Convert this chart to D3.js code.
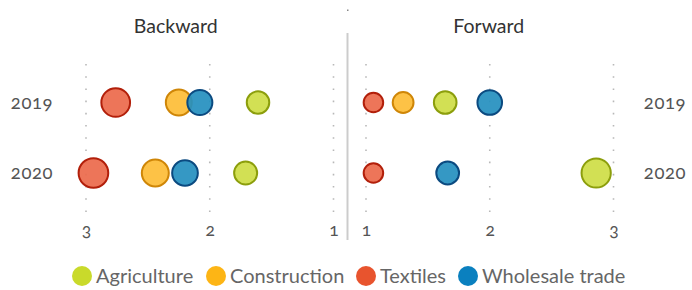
<!DOCTYPE html>
<html>
<head>
<meta charset="utf-8">
<script src="https://cdn.jsdelivr.net/npm/d3@7"></script>
<style>
  body { margin: 0; background: #fff; }
  svg { display: block; font-family: Lato, "Open Sans", sans-serif; font-variant-numeric: oldstyle-nums; }
</style>
</head>
<body>
<svg width="692" height="290"></svg>
<script>
const years = ['2019', '2020']
const sectors = ['Agriculture', 'Construction', 'Textiles', 'Wholesale trade']
const ticks = [1, 2, 3]

// participation values, one array per sector, by year
const backward = {
  'Agriculture': [1.61, 1.71],
  'Construction': [2.25, 2.44],
  'Textiles': [2.76, 2.94],
  'Wholesale trade': [2.08, 2.2]
}
const forward = {
  'Agriculture': [1.64, 2.86],
  'Construction': [1.3, null],
  'Textiles': [1.06, 1.06],
  'Wholesale trade': [2.0, 1.66]
}

const legendColor = ['#c9da2b', '#fdb515', '#e8542e', '#0a80bf']
const fillColor = ['#cfde47', '#fdbd38', '#ec6a4c', '#2690c0']
const strokeColor = ['#8c9e0c', '#cf8607', '#b21f0a', '#0b4a80']

const svg = d3.select('svg')

const yScale = d3.scalePoint().domain(years).range([102.5, 173])
const rScale = d3.scaleLinear().domain([1, 3]).range([9.6, 15])

const panels = [
  { title: 'Backward', data: backward, x: d3.scaleLinear().domain([3, 1]).range([86, 333.5]) },
  { title: 'Forward', data: forward, x: d3.scaleLinear().domain([1, 3]).range([366, 613.5]) }
]

// separator
svg.append('line')
  .attr('x1', 347.5).attr('x2', 347.5).attr('y1', 33).attr('y2', 240)
  .attr('stroke', '#cccccc').attr('stroke-width', 2)
svg.append('rect')
  .attr('x', 347).attr('y', 9.5).attr('width', 1.5).attr('height', 1.5)
  .attr('fill', '#888')

panels.forEach(p => {
  const g = svg.append('g')
  const [x0, x1] = p.x.range()

  g.append('text')
    .attr('x', (x0 + x1) / 2 + (p.title === 'Backward' ? -34 : -1))
    .attr('y', 33)
    .attr('text-anchor', 'middle')
    .attr('font-size', 19.5)
    .attr('fill', '#333')
    .text(p.title)

  // dotted grid
  g.selectAll('.grid').data(ticks).join('line')
    .attr('x1', d => p.x(d)).attr('x2', d => p.x(d))
    .attr('y1', 64).attr('y2', 214)
    .attr('stroke', '#b8b8b8')
    .attr('stroke-width', 1.6)
    .attr('stroke-dasharray', '1.6,10.6')

  const axis = d3.axisBottom(p.x).tickValues(ticks).tickFormat(d3.format('d')).tickSize(0).tickPadding(0)
  const ax = g.append('g').attr('transform', 'translate(0,224)').call(axis)
  ax.select('.domain').remove()
  ax.selectAll('text')
    .attr('font-size', 17.5)
    .attr('font-family', 'Lato, sans-serif')
    .attr('fill', '#555')

  const rows = []
  years.forEach((y, yi) => {
    sectors.forEach((s, si) => {
      const v = p.data[s][yi]
      if (v != null) rows.push({ year: y, sector: s, si, v })
    })
  })
  // Construction under Wholesale, drawn in sector order
  g.selectAll('circle').data(rows).join('circle')
    .attr('cx', d => p.x(d.v))
    .attr('cy', d => yScale(d.year))
    .attr('r', d => rScale(d.v))
    .attr('fill', d => fillColor[d.si])
    .attr('fill-opacity', 0.93)
    .attr('stroke', d => strokeColor[d.si])
    .attr('stroke-width', 2)
})

// year labels
const yearX = [{ x: 32, a: 'middle' }, { x: 665, a: 'middle' }]
yearX.forEach(o => {
  svg.selectAll(null).data(years).join('text')
    .attr('x', o.x)
    .attr('y', d => yScale(d) + 6)
    .attr('text-anchor', o.a)
    .attr('font-size', 18.5)
    .attr('letter-spacing', 0.6)
    .attr('fill', '#555')
    .text(d => d)
})

// legend
const legendX = [82, 216, 366, 468]
const leg = svg.append('g').attr('transform', 'translate(0,276)')
const items = leg.selectAll('g').data(sectors).join('g')
  .attr('transform', (d, i) => `translate(${legendX[i]},0)`)
items.append('circle').attr('r', 10).attr('fill', (d, i) => legendColor[i])
items.append('text')
  .attr('x', 14).attr('y', 6.5)
  .attr('font-size', 20)
  .attr('fill', '#666')
  .text(d => d)
</script>
</body>
</html>
